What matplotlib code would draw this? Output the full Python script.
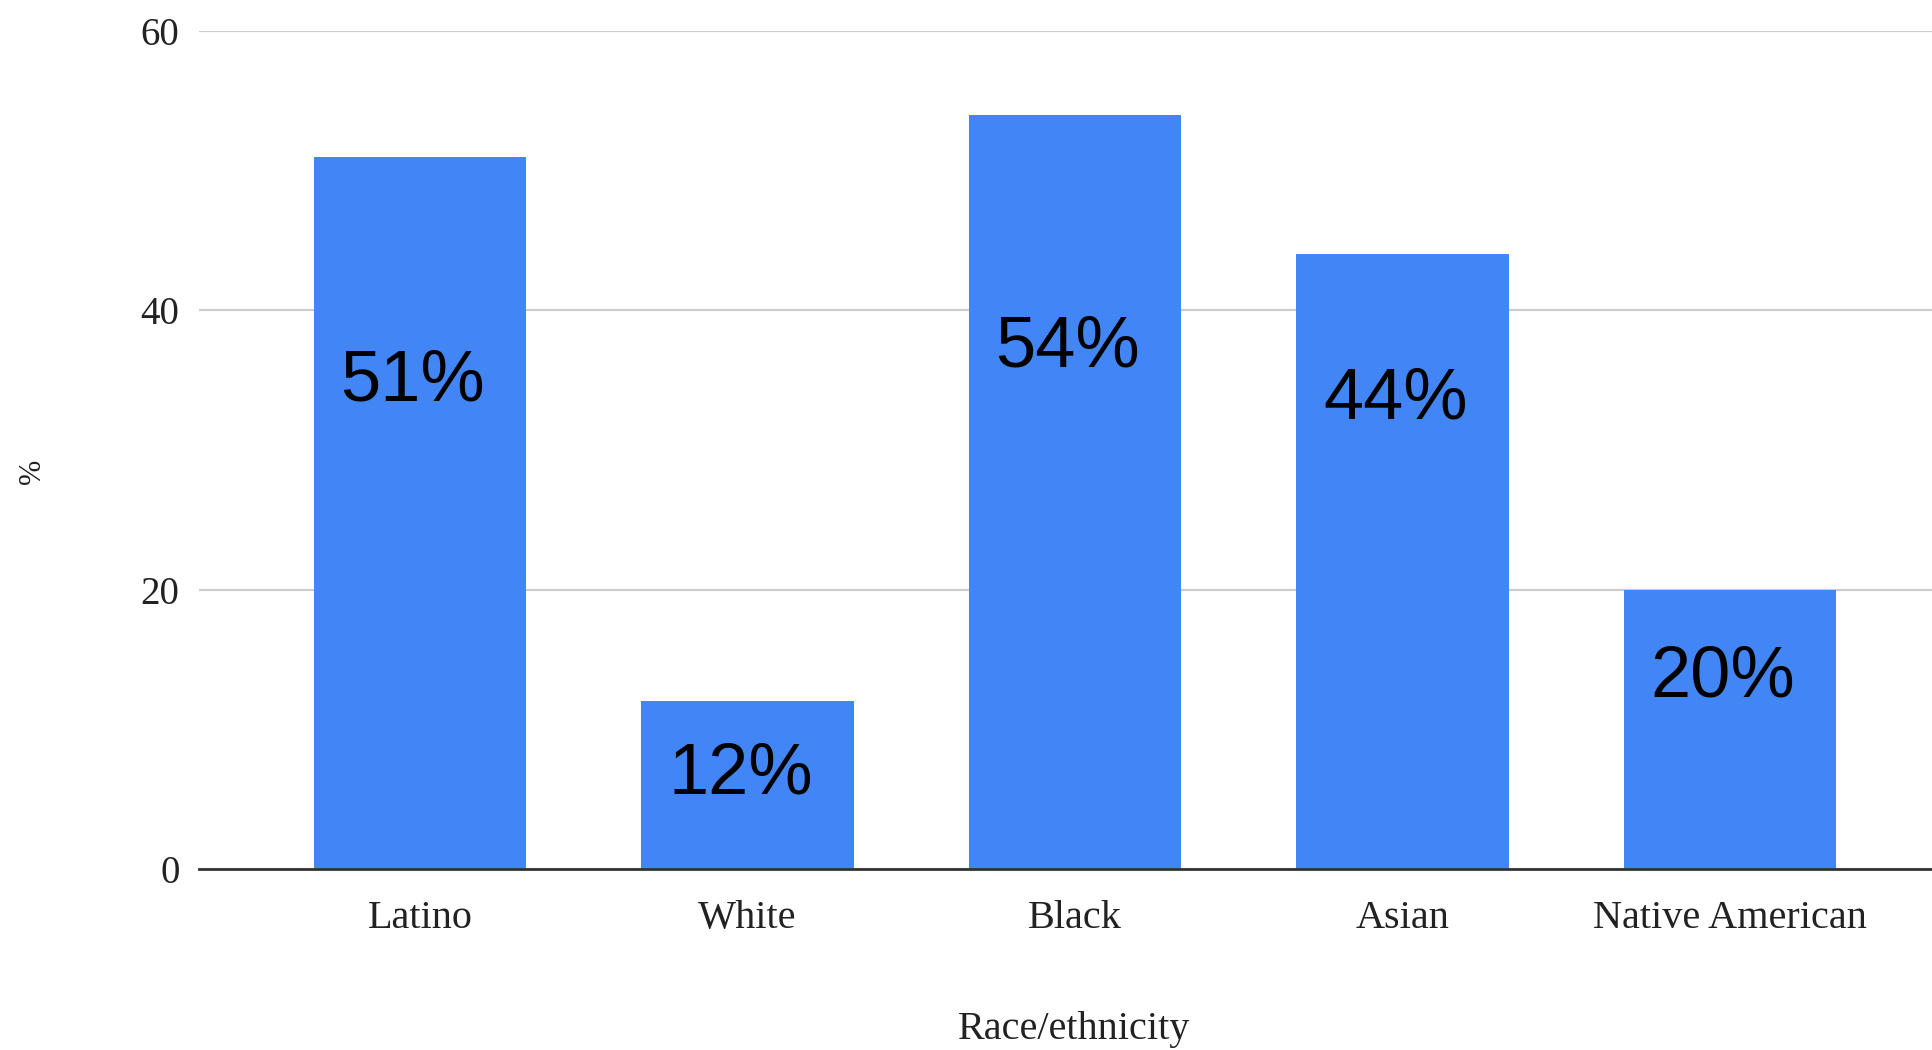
import matplotlib
matplotlib.use("Agg")
import matplotlib.pyplot as plt

# Share of each group, in percent
categories = ["Latino", "White", "Black", "Asian", "Native American"]
values = [51, 12, 54, 44, 20]
value_labels = ["51%", "12%", "54%", "44%", "20%"]
# Height (in axis units) at which each percentage label sits inside its bar
label_heights = [34.9, 6.7, 37.3, 33.6, 13.7]
y_ticks = [0, 20, 40, 60]

W, H = 1932, 1050
fig = plt.figure(figsize=(W / 100, H / 100), dpi=100)
left, right, top, bottom = 199, 1932, 31, 869
ax = fig.add_axes([left / W, 1 - bottom / H, (right - left) / W, (bottom - top) / H])

bar_color = "#4285F4"
x = list(range(len(categories)))
ax.bar(x, values, width=0.65, color=bar_color, zorder=3)

for xi, txt, yl in zip(x, value_labels, label_heights):
    ax.text(xi - 0.022, yl, txt, ha="center", va="center", fontsize=52,
            family="Liberation Sans", color="black", zorder=4)

ax.set_xlim(-0.675, 4.617)
ax.set_ylim(0, 60)
ax.set_yticks(y_ticks)
ax.set_yticklabels([str(t) for t in y_ticks])
ax.set_xticks(x)
ax.set_xticklabels(categories)

serif = "Liberation Serif"
for lab in ax.get_xticklabels():
    lab.set_family(serif)
    lab.set_fontsize(29)
    lab.set_color("#222222")
for lab in ax.get_yticklabels():
    lab.set_family(serif)
    lab.set_fontsize(28)
    lab.set_color("#222222")
ax.tick_params(axis="both", length=0)
ax.tick_params(axis="y", pad=14)
ax.tick_params(axis="x", pad=22)

ax.grid(axis="y", color="#cccccc", linewidth=1.6, zorder=0)
ax.set_axisbelow(True)
for s in ["top", "right", "left"]:
    ax.spines[s].set_visible(False)
ax.spines["bottom"].set_color("#333333")
ax.spines["bottom"].set_linewidth(2)
ax.spines["bottom"].set_zorder(5)

ax.set_xlabel("Race/ethnicity", family=serif, fontsize=29, color="#222222", va="center")
ax.xaxis.set_label_coords(0.505, -0.192)
ax.set_ylabel("%", family=serif, fontsize=22, color="#222222", va="center")
ax.yaxis.set_label_coords(-0.096, 0.474)

fig.savefig("out.png", dpi=100, facecolor="white")
